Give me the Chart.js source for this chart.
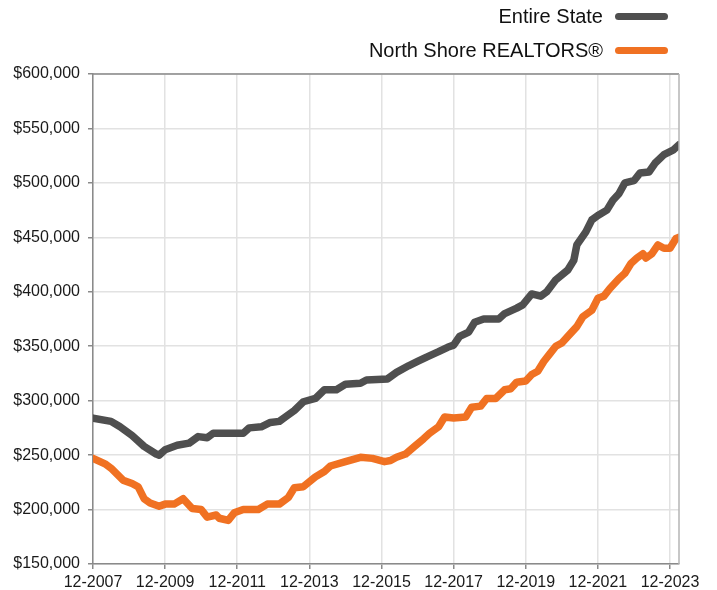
<!DOCTYPE html>
<html>
<head>
<meta charset="utf-8">
<script src="https://cdn.jsdelivr.net/npm/chart.js@4/dist/chart.umd.min.js"></script>
<style>
  html, body { margin: 0; padding: 0; background: #fff; }
  #wrap { position: relative; width: 717px; height: 590px; }
  canvas { position: absolute; left: 0; top: 0; }
  .leg { position: absolute; right: 49px; height: 24px; display: flex; align-items: center;
         font: 20px "Liberation Sans", Arial, sans-serif; color: #111; }
  .leg span.sw { display: inline-block; width: 53px; height: 7px; border-radius: 4px; margin-left: 12px; }
</style>
</head>
<body>
<div id="wrap">
  <canvas id="chart" width="717" height="590"></canvas>
  <div class="leg" style="top:4px">Entire State<span class="sw" style="background:#4f4f4f"></span></div>
  <div class="leg" style="top:38px">North Shore REALTORS®<span class="sw" style="background:#f07122"></span></div>
</div>
<script>
// months counted from 12-2007 (0) to 03-2024 (195)
const stateMonths = [0, 6, 9, 13, 17, 21, 22, 24, 28, 32, 35, 38, 40, 50, 52, 56, 59, 62, 64, 67,
  70, 74, 77, 81, 84, 89, 91, 98, 101, 105, 108, 111, 115, 118, 120, 122, 125, 127, 130, 135,
  137, 141, 143, 146, 149, 151, 154, 158, 160, 161, 164, 166, 168, 171, 173, 175, 177, 180, 182,
  185, 187, 190, 193, 195];
const stateValues = [284000, 281000, 276000, 268000, 258000, 251000, 250000, 255000, 259000, 261000,
  267000, 266000, 270000, 270000, 275000, 276000, 280000, 281000, 285000, 291000,
  299000, 302000, 310000, 310000, 315000, 316000, 319000, 320000, 326000, 332000,
  336000, 340000, 345000, 349000, 351000, 359000, 363000, 372000, 375000, 375000,
  380000, 385000, 388000, 398000, 396000, 400000, 411000, 420000, 429000, 443000,
  455000, 466000, 470000, 475000, 484000, 490000, 500000, 502000, 509000,
  510000, 518000, 526000, 530000, 535000];

const shoreMonths = [0, 4, 6, 10, 13, 15, 17, 19, 22, 24, 27, 30, 33, 36, 38, 41, 42, 45, 47, 50,
  55, 58, 62, 65, 67, 70, 74, 77, 79, 84, 89, 93, 97, 99, 101, 104, 107, 110, 112, 115,
  117, 120, 124, 126, 129, 131, 134, 137, 139, 141, 144, 146, 148, 150, 152, 154, 156, 159,
  161, 163, 166, 168, 170, 172, 175, 177, 179, 181, 183, 184, 186, 188, 190, 192, 194, 195];
const shoreValues = [247000, 242000, 238000, 227000, 224000, 221000, 210000, 206000, 203000, 205000,
  205000, 210000, 201000, 200000, 193000, 195000, 192000, 190000, 197000, 200000,
  200000, 205000, 205000, 211000, 220000, 221000, 230000, 235000, 240000, 244000,
  248000, 247000, 244000, 245000, 248000, 251000, 258000, 265000, 270000, 276000,
  285000, 284000, 285000, 294000, 295000, 302000, 302000, 310000, 311000, 317000,
  318000, 324000, 327000, 336000, 343000, 350000, 353000, 362000,
  368000, 377000, 383000, 394000, 396000, 403000, 412000, 417000, 426000, 431000,
  435000, 431000, 435000, 443000, 440000, 440000, 449000, 450000];

const xTicks = [0, 24, 48, 72, 96, 120, 144, 168, 192];
const yTicks = [150000, 200000, 250000, 300000, 350000, 400000, 450000, 500000, 550000, 600000];

const toPoints = (xs, ys) => xs.map((m, i) => ({ x: m, y: ys[i] }));
const fontFam = '"Liberation Sans", Arial, sans-serif';

// top and right frame lines
const frame = {
  id: "frame",
  afterDatasetsDraw(chart) {
    const { ctx, chartArea: a } = chart;
    ctx.save();
    ctx.lineWidth = 1.5;
    ctx.strokeStyle = "#8a8a8a";
    ctx.beginPath();
    ctx.moveTo(a.left, a.top);
    ctx.lineTo(a.right, a.top);
    ctx.stroke();
    ctx.strokeStyle = "#b5b5b5";
    ctx.beginPath();
    ctx.moveTo(a.right, a.top);
    ctx.lineTo(a.right, a.bottom);
    ctx.stroke();
    ctx.restore();
  }
};

new Chart(document.getElementById("chart"), {
  type: "line",
  data: {
    datasets: [
      { label: "Entire State", data: toPoints(stateMonths, stateValues), borderColor: "#4f4f4f" },
      { label: "North Shore REALTORS®", data: toPoints(shoreMonths, shoreValues), borderColor: "#f07122" }
    ]
  },
  options: {
    responsive: false,
    animation: false,
    layout: { padding: { top: 74, right: 38, left: 0, bottom: 0 } },
    elements: {
      point: { radius: 0 },
      line: { borderWidth: 7.5, tension: 0, borderJoinStyle: "round", borderCapStyle: "round" }
    },
    plugins: { legend: { display: false }, tooltip: { enabled: false } },
    scales: {
      x: {
        type: "linear", min: 0, max: 195,
        afterBuildTicks: s => { s.ticks = xTicks.map(v => ({ value: v })); },
        afterFit: s => { s.height = 26; },
        grid: { color: "#e2e2e2", lineWidth: 1.5, tickColor: "#8a8a8a", tickLength: 5 },
        border: { color: "#8a8a8a", width: 1.5 },
        ticks: {
          padding: 4, color: "#1a1a1a", maxRotation: 0, autoSkip: false,
          font: { family: fontFam, size: 16 },
          callback: v => "12-" + (2007 + v / 12)
        }
      },
      y: {
        min: 150000, max: 600000,
        afterBuildTicks: s => { s.ticks = yTicks.map(v => ({ value: v })); },
        afterFit: s => { s.width = 93; },
        grid: { color: "#e2e2e2", lineWidth: 1.5, tickColor: "#8a8a8a", tickLength: 5 },
        border: { color: "#8a8a8a", width: 1.5 },
        ticks: {
          padding: 8, color: "#1a1a1a",
          font: { family: fontFam, size: 16 },
          callback: v => "$" + v.toLocaleString("en-US")
        }
      }
    }
  },
  plugins: [frame]
});
</script>
</body>
</html>
